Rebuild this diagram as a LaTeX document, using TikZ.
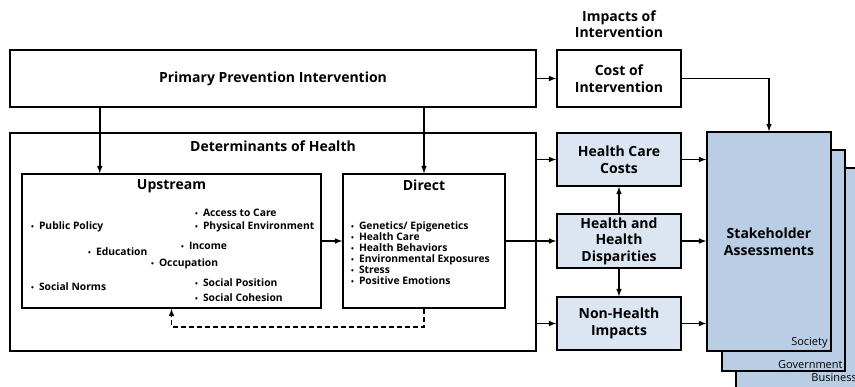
\documentclass[tikz,border=0pt]{standalone}
\usepackage{fontspec}
\setmainfont{Open Sans}
\usetikzlibrary{arrows}
\definecolor{impactblue}{HTML}{DCE6F2}
\definecolor{stakeblue}{HTML}{B9CDE5}
\newcommand{\bul}{{\fontsize{7.5}{7.5}\selectfont\textbullet}\hspace{5pt}}

\begin{document}
\begin{tikzpicture}[x=1pt,y=-1pt,
  every node/.style = {align=center, font=\bfseries\fontsize{14}{16.5}\selectfont},
  box/.style = {draw, line width=1.5pt, inner sep=0pt},
  impact/.style = {box, fill=impactblue, minimum width=124pt},
  stake/.style = {box, fill=stakeblue, minimum width=124pt, minimum height=220pt},
  item/.style = {anchor=west, inner sep=0pt, font=\bfseries\fontsize{10.3}{11}\selectfont},
  tag/.style = {anchor=south east, inner sep=0pt, font=\fontsize{11}{12}\selectfont},
  link/.style = {draw, line width=1.5pt, -latex}]
  \useasboundingbox (0,0) rectangle (855,386);
  \node[box, minimum width=526pt, minimum height=57pt] (prim) at (273,78.5) {Primary Prevention Intervention};
  \node[box, minimum width=526pt, minimum height=218pt] (det) at (273,242) {};
  \node[anchor=north] (dettitle) at ([yshift=-5pt]det.north) {Determinants of Health};
  \node[box, minimum width=299pt, minimum height=134pt] (up) at (171.5,241) {};
  \node[anchor=north] (uptitle) at ([yshift=-3pt]up.north) {Upstream};
  \node[box, minimum width=162pt, minimum height=134pt] (dir) at (424,241) {};
  \node[anchor=north] (dirtitle) at ([yshift=-3pt]dir.north) {Direct};
  % upstream factors
  \node[item] (access) at (195,213) {\bul Access to Care};
  \node[item] (phys) at (195,227) {\bul Physical Environment};
  \node[item] (policy) at (31,227) {\bul Public Policy};
  \node[item] (income) at (181,246) {\bul Income};
  \node[item] (educ) at (88,252) {\bul Education};
  \node[item] (occ) at (151,264) {\bul Occupation};
  \node[item] (norms) at (31,287) {\bul Social Norms};
  \node[item] (position) at (195,283) {\bul Social Position};
  \node[item] (cohesion) at (195,298) {\bul Social Cohesion};
  % direct factors
  \node[item, anchor=north west, align=left] (dirlist) at (351,221.5) {\bul Genetics/ Epigenetics\\ \bul Health Care\\
    \bul Health Behaviors\\ \bul Environmental Exposures\\ \bul Stress\\ \bul Positive Emotions};
  % impacts
  \node (impacts) at (619,24) {Impacts of\\ Intervention};
  \node[box, minimum width=124pt, minimum height=57pt] (cost) at (619,78.5) {Cost of\\ Intervention};
  \node[impact, minimum height=53pt] (hcc) at (619,159.5) {Health Care\\ Costs};
  \node[impact, minimum height=54pt] (hhd) at (619,241) {Health and\\ Health\\ Disparities};
  \node[impact, minimum height=53pt] (nhi) at (619,323.5) {Non-Health\\ Impacts};
  % stakeholders
  \node[stake] (business) at (798,278) {};
  \node[tag, anchor=west] (bustag) at ([xshift=76pt,yshift=-210pt]business.north west) {Business};
  \node[stake, minimum width=123pt, minimum height=221pt] (gov) at (783.5,260.5) {};
  \node[tag] (govtag) at ([xshift=-3pt,yshift=3pt]gov.south east) {Government};
  \node[stake, minimum height=219pt] (front) at (769,241.5) {Stakeholder\\ Assessments};
  \node[tag] (soctag) at ([xshift=-4pt,yshift=3pt]front.south east) {Society};
  % connectors
  \coordinate (upin) at ([xshift=78.5pt]up.north west);
  \path[link] (prim.south -| upin) -- (upin);
  \path[link] (prim.south -| dir.north) -- (dir.north);
  \path[link] (up.east) -- (dir.west);
  \path[link, dash pattern=on 5pt off 3pt] (dir.south) -- ++(0,18) -| (up.south);
  \path[link] (prim.east) -- (cost.west);
  \path[link] (cost.east) -| (front.north);
  \path[link] (det.east |- hcc.west) -- (hcc.west);
  \path[link] (dir.east) -- (hhd.west);
  \path[link] (det.east |- nhi.west) -- (nhi.west);
  \path[link] (hhd.north) -- (hcc.south);
  \path[link] (hhd.south) -- (nhi.north);
  \path[link] (hcc.east) -- (hcc.east -| front.west);
  \path[link] (hhd.east) -- (hhd.east -| front.west);
  \path[link] (nhi.east) -- (nhi.east -| front.west);
\end{tikzpicture}
\end{document}
